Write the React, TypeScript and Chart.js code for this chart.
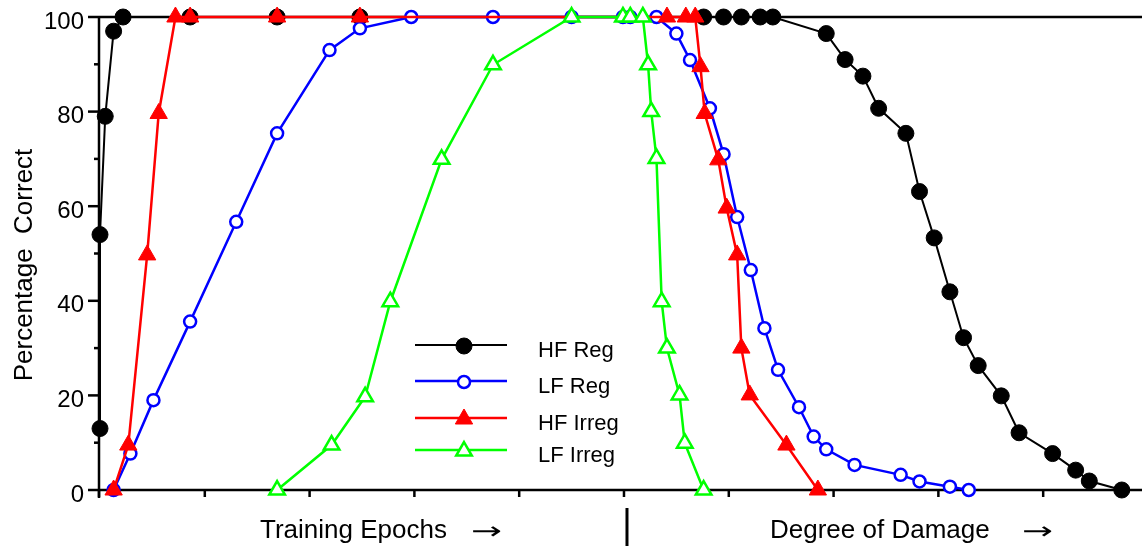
import React, { useEffect, useRef } from 'react';
import { Chart, registerables } from 'chart.js';
import { drawPoint } from 'chart.js/helpers';

Chart.register(...registerables);

// ---------------- data ----------------
const seriesNames = ['HF Reg', 'LF Reg', 'HF Irreg', 'LF Irreg'];

// x is measured in axis-tick units (first 5 units: training epochs, next: degree of damage)
const hfRegX = [0.0, 0.0, 0.05, 0.13, 0.22, 0.86, 1.69, 2.48, 5.76, 5.95, 6.12, 6.3, 6.42, 6.93, 7.11, 7.28, 7.43, 7.69, 7.82, 7.96, 8.11, 8.24, 8.38, 8.6, 8.77, 9.09, 9.31, 9.44, 9.75];
const hfRegY = [13, 54, 79, 97, 100, 100, 100, 100, 100, 100, 100, 100, 100, 96.5, 91, 87.5, 80.7, 75.4, 63.1, 53.3, 41.9, 32.2, 26.3, 19.9, 12.1, 7.7, 4.2, 1.9, 0];

const lfRegX = [0.13, 0.29, 0.51, 0.86, 1.3, 1.69, 2.19, 2.48, 2.97, 3.75, 4.5, 4.99, 5.06, 5.31, 5.5, 5.63, 5.82, 5.95, 6.08, 6.21, 6.34, 6.47, 6.67, 6.81, 6.93, 7.2, 7.64, 7.82, 8.11, 8.29];
const lfRegY = [0, 7.7, 19, 35.6, 56.7, 75.4, 93, 97.6, 100, 100, 100, 100, 100, 100, 96.5, 90.9, 80.7, 71, 57.7, 46.5, 34.2, 25.4, 17.5, 11.3, 8.6, 5.3, 3.2, 1.8, 0.7, 0];

const hfIrrX = [0.13, 0.27, 0.45, 0.56, 0.72, 0.86, 1.69, 2.48, 5.41, 5.59, 5.68, 5.73, 5.77, 5.9, 5.98, 6.08, 6.12, 6.2, 6.55, 6.85];
const hfIrrY = [0, 9.5, 49.7, 79.6, 100, 100, 100, 100, 100, 100, 100, 89.5, 79.6, 69.8, 59.6, 49.7, 30, 20.1, 9.5, 0];

const lfIrrX = [1.69, 2.21, 2.53, 2.77, 3.26, 3.75, 4.5, 4.99, 5.06, 5.18, 5.23, 5.26, 5.31, 5.36, 5.41, 5.53, 5.58, 5.76];
const lfIrrY = [0, 9.5, 19.7, 39.8, 69.9, 89.9, 100, 100, 100, 100, 89.9, 80, 70.1, 39.8, 30, 20.1, 9.9, 0];

const yMajorTicks = [0, 20, 40, 60, 80, 100];
const yMinorTicks = [10, 30, 50, 70, 90];
const xTickValues = [0, 1, 2, 3, 4, 5, 6, 7, 8, 9];
const xDivider = 5;

const yTitle = 'Percentage  Correct';
const xTitleLeft = 'Training Epochs';
const xTitleRight = 'Degree of Damage';
const arrowGlyph = '\u2192';

// ---------------- styles ----------------
const FONT = '"Liberation Sans", Arial, Helvetica, sans-serif';
const seriesStyles = [
  { color: '#000000', pointStyle: 'circle', radius: 8, fill: '#000000', lineWidth: 2, pointBorderWidth: 1, order: 4 },
  { color: '#0000ff', pointStyle: 'circle', radius: 6, fill: '#ffffff', lineWidth: 2.5, pointBorderWidth: 2.5, order: 3 },
  { color: '#ff0000', pointStyle: 'triangle', radius: 10, fill: '#ff0000', lineWidth: 2.5, pointBorderWidth: 1, order: 2 },
  { color: '#00ff00', pointStyle: 'triangle', radius: 9, fill: '#ffffff', lineWidth: 2.5, pointBorderWidth: 2.5, order: 1 },
];
const legendRowsY = [345, 381, 418, 450];

const toPoints = (xs: number[], ys: number[]) => xs.map((x, i) => ({ x, y: ys[i] }));
const seriesData = [
  toPoints(hfRegX, hfRegY),
  toPoints(lfRegX, lfRegY),
  toPoints(hfIrrX, hfIrrY),
  toPoints(lfIrrX, lfIrrY),
];

const framePlugin = {
  id: 'frame',
  beforeDatasetsDraw(chart: any) {
    const ctx = chart.ctx;
    const xs = chart.scales.x;
    const ys = chart.scales.y;
    const axisX = xs.getPixelForValue(0) - 1;
    const top = ys.getPixelForValue(100);
    const bottom = ys.getPixelForValue(0);
    ctx.save();
    ctx.strokeStyle = '#000';
    ctx.lineWidth = 2.5;
    ctx.lineCap = 'butt';
    // top frame line
    ctx.beginPath();
    ctx.moveTo(axisX, top);
    ctx.lineTo(chart.width, top);
    ctx.stroke();
    // x axis
    ctx.beginPath();
    ctx.moveTo(axisX - 1, bottom);
    ctx.lineTo(chart.width, bottom);
    ctx.stroke();
    // y axis
    ctx.beginPath();
    ctx.moveTo(axisX, top - 1);
    ctx.lineTo(axisX, bottom + 8);
    ctx.stroke();
    // y ticks
    yMajorTicks.forEach((v) => {
      const py = ys.getPixelForValue(v);
      ctx.beginPath();
      ctx.moveTo(axisX - 11, py);
      ctx.lineTo(axisX, py);
      ctx.stroke();
    });
    yMinorTicks.forEach((v) => {
      const py = ys.getPixelForValue(v);
      ctx.beginPath();
      ctx.moveTo(axisX - 5, py);
      ctx.lineTo(axisX, py);
      ctx.stroke();
    });
    // x ticks
    xTickValues.forEach((v) => {
      const px = v === 0 ? axisX : xs.getPixelForValue(v);
      ctx.beginPath();
      ctx.moveTo(px, bottom);
      ctx.lineTo(px, bottom + 7);
      ctx.stroke();
    });
    // y tick labels
    ctx.fillStyle = '#000';
    ctx.font = `24px ${FONT}`;
    ctx.textAlign = 'right';
    ctx.textBaseline = 'alphabetic';
    yMajorTicks.forEach((v) => {
      const py = ys.getPixelForValue(v);
      ctx.fillText(String(v), axisX - 15, py + 11.5);
    });
    // y title
    ctx.save();
    ctx.translate(32, 265);
    ctx.rotate(-Math.PI / 2);
    ctx.textAlign = 'center';
    ctx.font = `26px ${FONT}`;
    ctx.fillText(yTitle, 0, 0);
    ctx.restore();
    // bottom titles
    ctx.textAlign = 'left';
    ctx.font = `26px ${FONT}`;
    ctx.fillText(xTitleLeft, 260, 538);
    ctx.fillText(xTitleRight, 770, 538);
    const drawArrow = (x0: number, w: number, yc: number) => {
      ctx.save();
      ctx.font = `24px "DejaVu Sans", ${FONT}`;
      const m = ctx.measureText(arrowGlyph).width;
      ctx.translate(x0, yc);
      ctx.scale(w / m, 1);
      ctx.textAlign = 'left';
      ctx.textBaseline = 'middle';
      ctx.fillText(arrowGlyph, 0, 0);
      ctx.restore();
    };
    drawArrow(471, 31, 533);
    drawArrow(1022, 31, 533);
    // divider
    const dx = xs.getPixelForValue(xDivider) + 3;
    ctx.lineWidth = 3;
    ctx.beginPath();
    ctx.moveTo(dx, 508);
    ctx.lineTo(dx, 546);
    ctx.stroke();
    ctx.restore();
  },
  afterDatasetsDraw(chart: any) {
    const ctx = chart.ctx;
    ctx.save();
    seriesNames.forEach((name, i) => {
      const st = seriesStyles[i];
      const y = legendRowsY[i];
      ctx.strokeStyle = st.color;
      ctx.lineWidth = st.lineWidth;
      ctx.beginPath();
      ctx.moveTo(415, y);
      ctx.lineTo(507, y);
      ctx.stroke();
      ctx.fillStyle = st.fill;
      ctx.strokeStyle = st.color;
      ctx.lineWidth = st.pointBorderWidth;
      drawPoint(ctx, { pointStyle: st.pointStyle, radius: st.radius, rotation: 0, borderWidth: st.pointBorderWidth }, 464, y + 1);
      ctx.fillStyle = '#000';
      ctx.font = `22px ${FONT}`;
      ctx.textAlign = 'left';
      ctx.textBaseline = 'alphabetic';
      ctx.fillText(name, 538, y + 12);
    });
    ctx.restore();
  },
};

export default function App() {
  const canvasRef = useRef<HTMLCanvasElement | null>(null);
  useEffect(() => {
    if (!canvasRef.current) return;
    const chart = new Chart(canvasRef.current, {
      type: 'line',
      data: {
        datasets: seriesNames.map((name, i) => {
          const st = seriesStyles[i];
          return {
            label: name,
            data: seriesData[i],
            borderColor: st.color,
            borderWidth: st.lineWidth,
            backgroundColor: st.fill,
            pointStyle: st.pointStyle as any,
            pointRadius: st.radius,
            pointHoverRadius: st.radius,
            pointBackgroundColor: st.fill,
            pointBorderColor: st.color,
            pointBorderWidth: st.pointBorderWidth,
            tension: 0,
            fill: false,
            clip: false as any,
            order: st.order,
          };
        }),
      },
      options: {
        animation: false,
        responsive: false,
        devicePixelRatio: 1,
        layout: { autoPadding: false, padding: { left: 100, top: 17, right: 0, bottom: 56 } },
        plugins: { legend: { display: false }, tooltip: { enabled: false } },
        events: [],
        scales: {
          x: { type: 'linear', display: false, min: 0, max: 9.943 },
          y: { type: 'linear', display: false, min: 0, max: 100 },
        },
      },
      plugins: [framePlugin],
    });
    return () => chart.destroy();
  }, []);
  return (
    <div style={{ position: 'fixed', left: 0, top: 0, width: 1142, height: 546, background: '#fff' }}>
      <canvas ref={canvasRef} width={1142} height={546} style={{ display: 'block' }} />
    </div>
  );
}
